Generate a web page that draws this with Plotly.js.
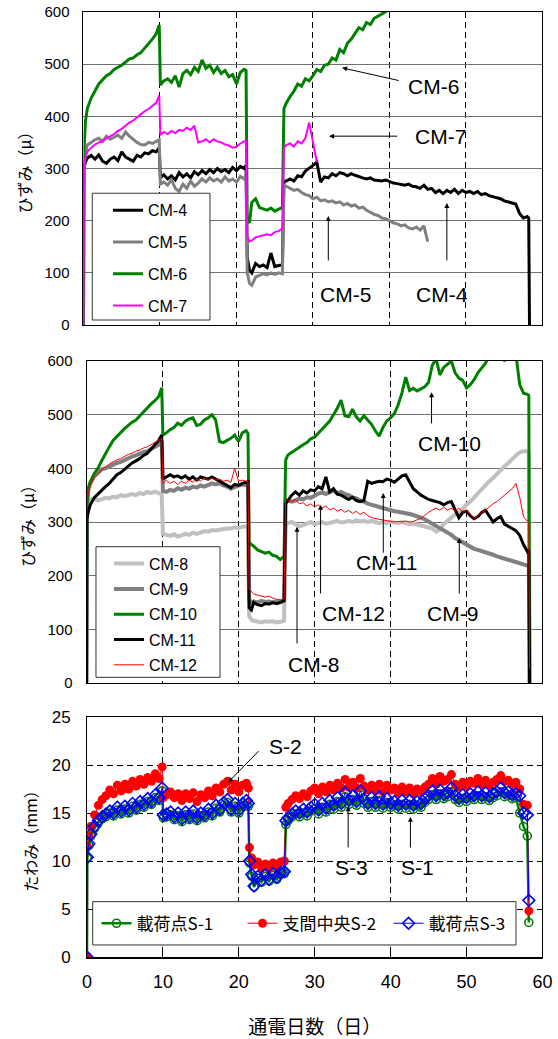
<!DOCTYPE html>
<html>
<head>
<meta charset="utf-8">
<script src="https://cdn.plot.ly/plotly-3.0.1.min.js"></script>
<style>
  html, body { margin: 0; padding: 0; background: #fff; }
  #chart { width: 558px; height: 1039px; }
</style>
</head>
<body>
<div id="chart"></div>
<script>
// Elapsed days of energisation (shared sampling grid for all series)
const days = [
  0, 0.05, 0.25, 0.5,
  1, 1.5, 2, 2.5, 3, 3.5, 4, 4.5, 5, 5.5, 6, 6.5, 7, 7.5, 8, 8.5, 9, 9.5,
  9.9, 10.05,
  10.5, 11, 11.5, 12, 12.5, 13, 13.5, 14, 14.5, 15, 15.5, 16, 16.5, 17, 17.5, 18, 18.5, 19, 19.5, 20, 20.5, 21,
  21.25, 21.4, 21.7,
  22, 22.5, 23, 23.5, 24, 24.5, 25, 25.5, 26,
  26.2, 26.5,
  27, 27.5, 28, 28.5, 29, 29.5, 30, 30.5, 31, 31.5, 32, 32.5, 33, 33.5, 34, 34.5, 35, 35.5, 36, 36.5,
  37, 37.5, 38, 38.5, 39, 39.5, 40, 40.5, 41, 41.5, 42, 42.5, 43, 43.5, 44, 44.5, 45, 45.5, 46, 46.5,
  47, 47.5, 48, 48.5, 49, 49.5, 50, 50.5, 51, 51.5, 52, 52.5, 53, 53.5, 54, 54.5, 55, 55.5, 56, 56.5,
  57, 57.5, 58,
  58.2, 58.3
];

// Strain, gauges CM-4 .. CM-7 (micro strain)
const cm4 = [
  0, 300, 312, 320,
  325, 318, 326, 314, 310, 318, 322, 315, 332, 322, 318, 314, 325, 322, 330, 328, 334, 332,
  340, 282,
  288, 280, 286, 278, 292, 284, 290, 282, 294, 288, 296, 290, 298, 292, 300, 294, 298, 292, 302, 296, 304, 300,
  306, 130, 105,
  100, 118, 112, 115, 110, 138, 112, 114, 115,
  275, 276,
  280, 276, 286, 284, 295, 300, 306, 312, 274, 284, 282, 290, 286, 292, 290, 286, 290, 287, 284, 282,
  280, 282, 278, 277, 276, 278, 275, 272, 271, 270, 268, 270, 266, 265, 262, 268, 260, 262, 254, 258,
  252, 258, 254, 260, 252, 258, 254, 256, 252, 256, 250, 252, 248, 246, 244, 242, 238, 236, 234, 232,
  214, 205, 208,
  205, 0
];
const cm5 = [
  0, 300, 330, 345,
  350, 355, 358, 352, 362, 356, 360, 364, 358, 370, 362, 356, 350, 346, 345, 350, 348, 352,
  355, 270,
  274, 268, 278, 262, 256, 270, 262, 276, 266, 272, 280, 274, 282, 276, 280, 274, 284, 276, 280, 274, 285, 280,
  288, 100, 80,
  76, 92, 95, 98, 96, 100, 97, 100, 98,
  268, 266,
  262, 258, 260, 254, 250, 248, 242, 245, 238, 240, 236, 238, 234, 236, 230, 233, 228, 230, 224, 226,
  220, 216, 212, 210, 205, 204, 200, 196, 194, 190, 192, 186, 184, 188, 182, 190, 160
];
const cm6 = [
  0, 330, 390, 415,
  435, 450, 462, 470, 478, 482, 490, 494, 498, 504, 510, 512, 518, 522, 530, 540, 548, 558,
  575, 460,
  468, 472, 465, 478, 456, 482, 488, 480, 494, 486, 508, 492, 498, 484, 494, 482, 488, 476, 480, 462, 484, 490,
  488, 200, 196,
  235, 242, 225, 222, 220, 224, 218, 222, 225,
  415, 425,
  438, 448, 462, 458, 472, 468, 478, 490, 486, 498, 500, 512, 508, 528, 522, 540, 548, 558, 570, 566,
  580, 576, 588, 592, 596, 600, 605, 615
];
const cm7 = [
  0, 295, 320, 332,
  340, 346, 350, 352, 358, 362, 366, 372, 376, 382, 388, 392, 398, 404, 410, 414, 420, 426,
  440, 364,
  370, 366, 372, 368, 374, 372, 378, 374, 382, 350, 352, 356, 350, 356, 352, 350, 346, 344, 340, 342, 348, 352,
  352, 170, 160,
  162, 168, 170, 172, 174, 172, 178, 180, 185,
  340, 345,
  348, 342, 352, 348, 358, 388, 350, 312
];

// Strain, gauges CM-8 .. CM-12 (micro strain)
const cm8 = [
  0, 320, 338, 342,
  344, 340, 342, 345, 344, 347, 346, 350, 348, 350, 352, 350, 354, 352, 356, 354, 357, 354,
  352, 278,
  276, 274, 277, 273, 275, 278, 276, 280, 278, 281, 283, 282, 285, 284, 286, 287, 288, 288, 290, 289, 291, 292,
  292, 125, 118,
  116, 114, 113, 115, 114, 115, 113, 114, 116,
  300, 298,
  300, 296, 292, 294, 298, 300, 296, 298, 300, 297, 298, 300, 302, 299, 300, 302, 300, 303, 301, 302,
  300, 302, 300, 298, 300, 298, 300, 299, 298, 300, 298, 296, 297, 295, 294, 292, 290, 288, 282, 286,
  296, 302, 310, 314, 318, 326, 332, 338, 346, 352, 362, 368, 376, 382, 390, 396, 404, 410, 418, 424,
  430, 432, 432,
  430, 0
];
const cm9 = [
  0, 330, 360, 372,
  385, 392, 398, 400, 404, 406, 410, 412, 416, 418, 422, 424, 428, 430, 432, 436, 440, 444,
  452, 358,
  356, 360, 358, 363, 360, 364, 362, 366, 364, 368, 366, 370, 372, 370, 372, 368, 366, 362, 366, 368, 370, 369,
  368, 155, 150,
  152, 150, 153, 151, 152, 150, 152, 151, 153,
  338, 340,
  338, 340, 344, 342, 346, 345, 350, 353, 355, 352, 356, 358, 354, 356, 352, 350, 346, 344, 340, 338,
  334, 332, 330, 328, 325, 324, 322, 320, 319, 318, 316, 315, 313, 311, 308, 305, 301, 297, 292, 288,
  285, 282, 276, 270, 266, 260, 257, 254, 250, 248, 246, 243, 241, 239, 236, 234, 232, 230, 227, 225,
  223, 221, 219,
  218, 0
];
const cm10 = [
  0, 330, 363, 375,
  390, 400, 414, 428, 440, 452, 460, 466, 474, 480, 486, 490, 498, 506, 512, 520, 526, 534,
  550, 462,
  466, 472, 476, 484, 480, 488, 492, 494, 480, 482, 490, 494, 500, 490, 450, 448, 452, 456, 462, 450, 466, 470,
  465, 262, 258,
  255, 248, 245, 242, 244, 238, 236, 230, 236,
  415, 425,
  430, 434, 440, 444, 448, 455, 458, 466, 474, 480, 488, 500, 512, 527, 498, 496, 510, 496, 488, 498,
  490, 482, 470, 460, 476, 488, 494, 502, 518, 540, 570, 545, 549, 544, 548, 552, 560, 592, 604, 574,
  588, 594, 600, 578, 568, 564, 550, 556, 565, 578, 586, 596, 610, 620, 615, 612, 600, 615, 620, 612,
  556, 540, 538,
  536, 0
];
const cm11 = [
  0, 305, 320, 332,
  345, 352, 360, 366, 372, 380, 388, 392, 398, 404, 410, 414, 418, 424, 428, 436, 444, 452,
  462, 380,
  384, 388, 384, 386, 382, 386, 380, 384, 378, 384, 382, 380, 384, 380, 376, 372, 368, 364, 370, 368, 372, 375,
  375, 140, 136,
  150, 146, 144, 148, 147, 150, 148, 150, 154,
  334, 340,
  350, 356, 350, 358, 354, 360, 358, 366, 362, 384, 356, 362, 352, 350, 346, 342, 346, 340, 338, 340,
  376, 372, 374, 376, 375, 380, 378, 374, 380, 386, 388, 374, 362, 356, 350, 346, 342, 340, 338, 336,
  332, 336, 338, 322, 308, 318, 320, 312, 306, 310, 318, 322, 312, 300, 306, 310, 296, 292, 288, 284,
  275, 258, 245,
  248, 0
];
const cm12 = [
  0, 335, 356, 368,
  382, 390, 398, 402, 408, 412, 416, 418, 422, 426, 428, 432, 434, 438, 440, 444, 448, 452,
  456, 372,
  378, 372, 376, 370, 376, 372, 378, 374, 380, 376, 382, 378, 382, 378, 380, 376, 378, 374, 400, 376, 378, 376,
  375, 175, 170,
  166, 164, 162, 160, 162, 158, 156, 155, 157,
  345, 340,
  338, 342, 334, 336, 330, 334, 328, 332, 326, 330, 322, 326, 320, 324, 318, 322, 316, 320, 314, 318,
  312, 308, 306, 305, 304, 303, 302, 300, 301, 300, 302, 300, 301, 304, 307, 312, 318, 322, 326, 322,
  328, 322, 326, 320, 326, 318, 322, 314, 306, 312, 318, 322, 328, 334, 338, 344, 350, 356, 362, 372,
  346, 310, 300,
  298, 25
];

// Deflection (mm) at loading points S-1, S-3 and mid-span S-2
const s1 = [
  0, 10.3, 11.6, 12.6,
  13.4, 14.0, 14.4, 14.6, 15.0, 14.7, 15.3, 14.9, 15.4, 15.0, 15.7, 15.3, 15.9, 15.6, 16.2, 15.9, 16.6, 16.3,
  17.3, 14.5,
  14.6, 14.8, 14.3, 14.7, 14.1, 14.8, 14.3, 14.9, 14.2, 14.7, 14.5, 15.1, 14.7, 15.5, 15.1, 15.8, 16.1, 15.1, 15.7, 15.0, 15.7, 16.0,
  15.7, 9.8, 8.4,
  7.3, 8.2, 7.8, 8.4, 7.9, 8.5, 8.1, 8.6, 8.7,
  13.8, 14.2,
  14.6, 14.9, 14.6, 15.0, 14.7, 15.2, 15.5, 14.9, 15.6, 15.1, 15.9, 15.4, 16.2, 15.6, 16.7, 15.9, 16.4, 15.8, 16.9, 16.0,
  15.6, 16.2, 15.6, 16.3, 15.5, 16.1, 15.6, 15.8, 15.4, 15.9, 15.5, 15.9, 15.4, 15.8, 15.6, 16.1, 16.4, 16.9, 16.4, 17.0,
  16.5, 16.7, 17.2, 16.4, 16.1, 16.5, 16.2, 16.6, 16.4, 16.8, 16.4, 16.7, 16.3, 16.6, 16.8, 17.2, 16.7, 16.8, 16.5, 16.6,
  15.0, 13.6, 12.6,
  3.6
];
const s2 = [
  0, 11.5, 12.6, 13.6,
  14.8, 15.8, 16.4, 16.8, 17.4, 17.0, 17.9, 17.3, 18.0, 17.5, 18.3, 17.8, 18.5, 18.0, 18.7, 18.3, 19.1, 18.6,
  19.8, 16.6,
  16.9, 17.2, 16.6, 17.0, 16.3, 17.0, 16.5, 17.1, 16.2, 16.9, 16.6, 17.3, 16.8, 17.6, 17.2, 18.0, 18.3, 17.4, 18.0, 17.2, 17.9, 18.1,
  17.6, 11.4, 10.3,
  9.6, 9.9, 9.3, 9.7, 9.2, 9.8, 9.4, 9.9, 10.0,
  15.6, 16.0,
  16.4, 16.8, 16.5, 17.0, 16.7, 17.3, 17.6, 17.0, 17.7, 17.2, 17.9, 17.4, 18.1, 17.6, 18.5, 17.7, 18.2, 17.6, 18.6, 17.8,
  17.4, 17.9, 17.3, 18.0, 17.2, 17.9, 17.4, 17.6, 17.1, 17.7, 17.2, 17.6, 17.0, 17.5, 17.2, 17.7, 18.0, 18.6, 18.0, 18.8,
  18.3, 18.5, 19.0, 18.0, 17.7, 18.2, 17.8, 18.3, 18.1, 18.6, 18.0, 18.4, 17.9, 18.2, 18.5, 18.9, 18.3, 18.4, 18.0, 18.2,
  17.5, 15.9, 15.8,
  4.8
];
const s3 = [
  0, 10.4, 11.8, 12.8,
  13.6, 14.2, 14.6, 14.9, 15.2, 15.0, 15.6, 15.2, 15.7, 15.3, 16.0, 15.6, 16.2, 15.9, 16.5, 16.2, 16.9, 16.6,
  17.6, 14.8,
  14.9, 15.1, 14.6, 15.0, 14.4, 15.1, 14.6, 15.2, 14.5, 15.0, 14.8, 15.4, 15.0, 15.8, 15.4, 16.1, 16.4, 15.4, 16.0, 15.3, 16.0, 16.3,
  16.0, 10.0, 8.6,
  7.4, 8.4, 8.0, 8.6, 8.1, 8.7, 8.3, 8.8, 8.9,
  14.2, 14.5,
  14.9, 15.2, 15.0, 15.4, 15.1, 15.6, 15.9, 15.3, 16.0, 15.5, 16.3, 15.8, 16.6, 16.0, 17.1, 16.3, 16.8, 16.2, 17.3, 16.4,
  16.0, 16.6, 16.0, 16.7, 15.9, 16.5, 16.0, 16.2, 15.8, 16.3, 15.9, 16.3, 15.8, 16.2, 16.0, 16.5, 16.8, 17.3, 16.8, 17.4,
  16.9, 17.1, 17.6, 16.8, 16.5, 16.9, 16.6, 17.0, 16.8, 17.2, 16.8, 17.1, 16.7, 17.0, 17.2, 17.6, 17.1, 17.2, 16.9, 17.0,
  16.8, 15.0, 14.8,
  5.9
];

const FONT = 'Liberation Sans, Arial, Noto Sans CJK JP, sans-serif';
const JP = 'Noto Sans CJK JP, Liberation Sans, sans-serif';

function line(name, y, color, width, xa, ya, legend) {
  return {
    type: 'scatter', mode: 'lines', name: name,
    x: days.slice(0, y.length), y: y,
    xaxis: xa, yaxis: ya, legend: legend, legendgroup: name,
    line: { color: color, width: width },
    hoverinfo: 'skip'
  };
}
function markers(name, y, color, width, symbol, size, filled) {
  return {
    type: 'scatter', mode: 'lines+markers', name: name,
    x: days.slice(0, y.length), y: y,
    xaxis: 'x3', yaxis: 'y3', legend: 'legend3', legendgroup: name,
    line: { color: color, width: width },
    marker: { symbol: symbol, size: size, color: color, line: { color: color, width: filled ? 0 : 1.6 } },
    hoverinfo: 'skip'
  };
}

const traces = [
  line('CM-4', cm4, '#000000', 3, 'x', 'y', 'legend'),
  line('CM-5', cm5, '#808080', 3, 'x', 'y', 'legend'),
  line('CM-6', cm6, '#008000', 3, 'x', 'y', 'legend'),
  line('CM-7', cm7, '#ff00ff', 2, 'x', 'y', 'legend'),
  line('CM-8', cm8, '#c0c0c0', 4, 'x2', 'y2', 'legend2'),
  line('CM-9', cm9, '#808080', 4, 'x2', 'y2', 'legend2'),
  line('CM-10', cm10, '#008000', 3, 'x2', 'y2', 'legend2'),
  line('CM-11', cm11, '#000000', 3, 'x2', 'y2', 'legend2'),
  line('CM-12', cm12, '#ff0000', 1, 'x2', 'y2', 'legend2'),
  markers('載荷点S-1', s1, '#008000', 2.5, 'circle-open', 8, false),
  markers('支間中央S-2', s2, '#ff0000', 1, 'circle', 9, true),
  markers('載荷点S-3', s3, '#0000ff', 1, 'diamond-open', 9, false)
];

const vDash = '6px,4px';
function xAxis(domain, anchor, extra) {
  return Object.assign({
    domain: domain, anchor: anchor, range: [0, 60], dtick: 10, tick0: 0,
    showgrid: true, gridcolor: '#000', gridwidth: 1, griddash: vDash,
    zeroline: false, showline: true, mirror: true, linecolor: '#000', linewidth: 1,
    showticklabels: false, ticks: '', automargin: false, fixedrange: true
  }, extra || {});
}
function strainAxis(domain, anchor, title) {
  return {
    domain: domain, anchor: anchor, range: [0, 600], dtick: 100, tick0: 0,
    showgrid: true, gridcolor: '#707070', gridwidth: 1,
    zeroline: false, showline: true, mirror: true, linecolor: '#000', linewidth: 1,
    ticks: '', ticklabelstandoff: 10, tickfont: { family: FONT, size: 15, color: '#000' },
    title: { text: title, font: { family: JP, size: 16, color: '#000' }, standoff: 8 },
    automargin: false, fixedrange: true
  };
}

// Legend frames (paper fractions): [x0, x1, y0, y1]
const frames = [
  [0.1654, 0.3763, 0.6920, 0.8140],
  [0.1720, 0.3943, 0.3481, 0.4738],
  [0.1661, 0.9247, 0.0905, 0.1322]
];

const legendBase = {
  xanchor: 'left', yanchor: 'top',
  bgcolor: 'rgba(0,0,0,0)', borderwidth: 0,
  font: { family: FONT, size: 16, color: '#000' }
};

const layout = {
  width: 558, height: 1039,
  margin: { l: 0, r: 0, t: 0, b: 0 },
  paper_bgcolor: '#ffffff', plot_bgcolor: '#ffffff',
  font: { family: FONT, color: '#000' },
  showlegend: true,
  xaxis: xAxis([0.14964, 0.97222], 'y'),
  yaxis: strainAxis([0.68720, 0.98845], 'x', 'ひずみ（μ）'),
  xaxis2: xAxis([0.15502, 0.97222], 'y2'),
  yaxis2: strainAxis([0.34264, 0.65255], 'x2', 'ひずみ（μ）'),
  xaxis3: xAxis([0.15591, 0.97222], 'y3', {
    showticklabels: true, ticks: 'inside', ticklen: 5, tickcolor: '#000',
    linewidth: 1.5, ticklabelstandoff: 8,
    tickfont: { family: FONT, size: 18, color: '#000' },
    title: { text: '通電日数（日）', font: { family: JP, size: 19, color: '#000' }, standoff: 30 }
  }),
  yaxis3: {
    domain: [0.07892, 0.30991], anchor: 'x3', range: [0, 25], dtick: 5, tick0: 0,
    showgrid: true, gridcolor: '#000', gridwidth: 1, griddash: vDash,
    zeroline: false, showline: true, mirror: true, linecolor: '#000', linewidth: 1,
    ticks: '', ticklabelstandoff: 12, tickfont: { family: FONT, size: 17, color: '#000' },
    title: { text: 'たわみ（mm）', font: { family: JP, size: 16, color: '#000' }, standoff: 10 },
    automargin: false, fixedrange: true
  },
  legend: Object.assign({}, legendBase, {
    x: 0.1935, y: 0.8140, traceorder: 'grouped', tracegroupgap: 8, itemwidth: 30
  }),
  legend2: Object.assign({}, legendBase, {
    x: 0.1953, y: 0.4738, traceorder: 'grouped', tracegroupgap: 1.5, itemwidth: 30
  }),
  legend3: Object.assign({}, legendBase, {
    orientation: 'h', x: 0.1730, y: 0.1283,
    font: { family: JP, size: 17, color: '#000' },
    itemwidth: 30, entrywidth: 101, entrywidthmode: 'pixels'
  }),
  shapes: frames.map(([x0, x1, y0, y1]) => ({
    type: 'rect', xref: 'paper', yref: 'paper', x0: x0, x1: x1, y0: y0, y1: y1,
    fillcolor: '#ffffff', line: { color: '#333333', width: 1 }, layer: 'above'
  })),
  annotations: []
};

// Callout labels: [text, xref, yref, x, y]
const labels = [
  ['CM-6', 'x', 'y', 45.8, 458], ['CM-7', 'x', 'y', 46.7, 362],
  ['CM-5', 'x', 'y', 34.3, 59], ['CM-4', 'x', 'y', 46.9, 59],
  ['CM-10', 'x2', 'y2', 47.7, 447], ['CM-11', 'x2', 'y2', 39.5, 224],
  ['CM-12', 'x2', 'y2', 35.1, 130], ['CM-9', 'x2', 'y2', 48.2, 130],
  ['CM-8', 'x2', 'y2', 29.9, 34],
  ['S-2', 'x3', 'y3', 26.1, 21.9], ['S-3', 'x3', 'y3', 34.8, 9.3], ['S-1', 'x3', 'y3', 43.6, 9.3]
];
// Callout arrows: [xref, yref, tailX, tailY, headX, headY]
const arrows = [
  ['x', 'y', 41.4, 468, 33.8, 493], ['x', 'y', 41.2, 362, 32.1, 362],
  ['x', 'y', 32.0, 121, 32.0, 209], ['x', 'y', 47.5, 121, 47.5, 234],
  ['x2', 'y2', 45.4, 481, 45.4, 542], ['x2', 'y2', 39.05, 240, 39.05, 354],
  ['x2', 'y2', 30.8, 164, 30.8, 332], ['x2', 'y2', 49.05, 164, 49.05, 270],
  ['x2', 'y2', 27.7, 71, 27.7, 291],
  ['x3', 'y3', 22.8, 21.6, 18.6, 18.2], ['x3', 'y3', 34.4, 11.25, 34.4, 15.7],
  ['x3', 'y3', 42.6, 11.25, 42.6, 14.6]
];
labels.forEach(([t, xr, yr, x, y]) => layout.annotations.push({
  text: t, xref: xr, yref: yr, x: x, y: y, showarrow: false,
  xanchor: 'center', yanchor: 'middle', font: { family: FONT, size: 21, color: '#000' }
}));
arrows.forEach(([xr, yr, tx, ty, hx, hy]) => layout.annotations.push({
  text: '', xref: xr, yref: yr, x: hx, y: hy, axref: xr, ayref: yr, ax: tx, ay: ty,
  showarrow: true, arrowhead: 2, arrowsize: 1, arrowwidth: 1, arrowcolor: '#000', standoff: 0
}));

Plotly.newPlot('chart', traces, layout, { staticPlot: true, displayModeBar: false });
</script>
</body>
</html>
